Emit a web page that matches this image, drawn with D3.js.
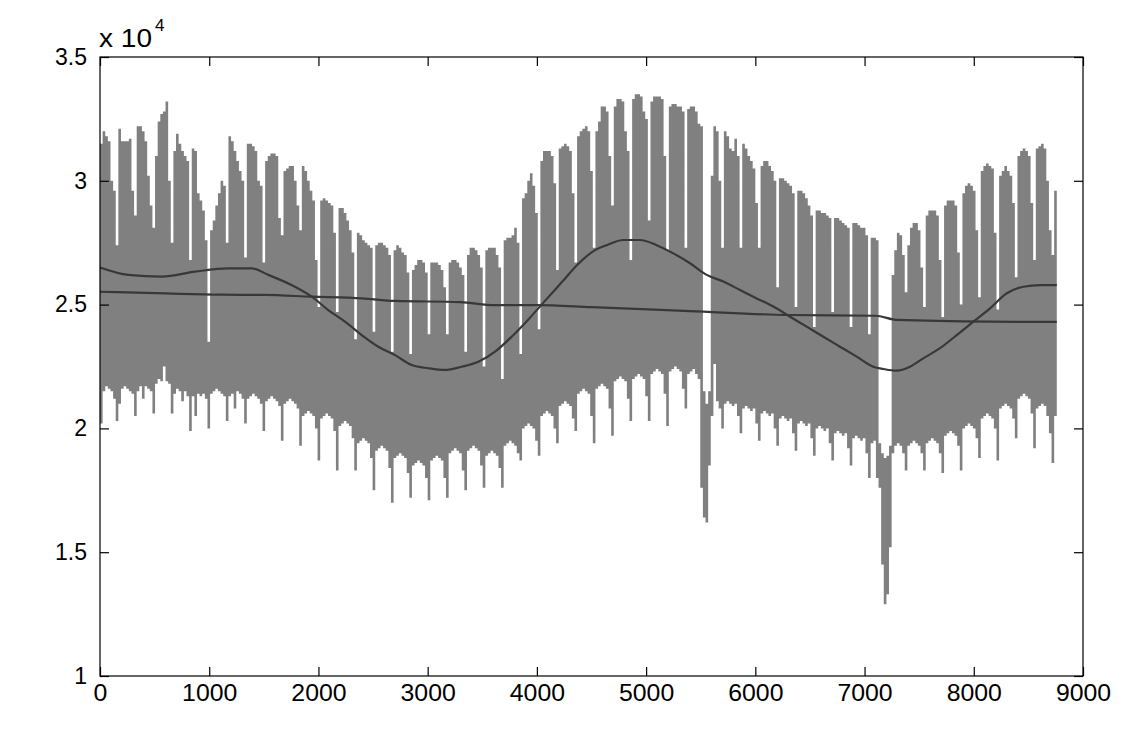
<!DOCTYPE html>
<html><head><meta charset="utf-8">
<script src="https://cdn.jsdelivr.net/npm/d3@7"></script>
<style>
body{margin:0;background:#fff}
svg{display:block}
text{font-family:"Liberation Sans",Arial,sans-serif;fill:#000}
</style>
</head><body>
<svg id="chart" width="1135" height="755"></svg>
<script>
const dailyMax = [
3.15,3.20,3.18,3.16,3.00,2.96,2.74,
3.21,3.16,3.16,3.16,3.17,2.96,2.86,
3.22,3.22,3.20,3.16,3.02,2.90,2.81,
3.10,3.24,3.27,3.28,3.32,3.00,2.75,
3.12,3.19,3.15,3.12,3.10,3.08,2.68,
3.13,3.12,2.95,2.92,2.88,2.76,2.35,
2.80,2.84,2.90,2.95,3.00,2.98,2.75,
3.18,3.16,3.12,3.08,3.04,3.00,2.69,
3.15,3.15,3.14,3.12,3.00,2.98,2.67,
3.08,3.10,3.11,3.11,3.10,2.85,2.78,
3.04,3.05,3.06,3.06,3.00,2.90,2.80,
3.06,3.04,3.00,2.96,2.92,2.68,2.49,
2.92,2.93,2.92,2.91,2.90,2.79,2.47,
2.89,2.89,2.87,2.84,2.80,2.71,2.36,
2.79,2.78,2.76,2.75,2.74,2.73,2.39,
2.74,2.75,2.75,2.74,2.73,2.70,2.31,
2.72,2.74,2.73,2.71,2.70,2.63,2.30,
2.64,2.66,2.68,2.68,2.67,2.63,2.38,
2.67,2.67,2.67,2.66,2.64,2.57,2.38,
2.67,2.68,2.68,2.67,2.65,2.62,2.31,
2.70,2.73,2.73,2.72,2.70,2.65,2.25,
2.72,2.73,2.73,2.73,2.70,2.65,2.20,
2.76,2.77,2.77,2.78,2.81,2.75,2.30,
2.93,2.95,3.00,3.03,2.98,2.87,2.40,
3.08,3.12,3.12,3.12,3.10,2.99,2.64,
3.13,3.14,3.15,3.14,3.12,2.95,2.67,
3.18,3.20,3.21,3.22,3.20,3.04,2.73,
3.20,3.24,3.30,3.30,3.28,3.10,2.90,
3.30,3.33,3.33,3.32,3.20,3.12,2.68,
3.33,3.35,3.35,3.34,3.28,3.25,2.84,
3.32,3.34,3.34,3.34,3.33,3.10,2.72,
3.30,3.31,3.31,3.30,3.30,3.28,2.73,
3.29,3.30,3.30,3.28,3.23,3.22,2.15,
2.10,2.15,3.02,3.22,3.20,3.00,2.73,
3.20,3.18,3.13,3.12,3.17,3.10,2.73,
3.15,3.13,3.10,3.08,3.05,2.91,2.73,
3.06,3.08,3.08,3.06,3.04,3.00,2.57,
3.01,3.01,3.00,2.99,2.98,2.95,2.49,
2.96,2.96,2.95,2.93,2.90,2.86,2.41,
2.88,2.88,2.87,2.87,2.86,2.85,2.47,
2.85,2.85,2.84,2.83,2.82,2.81,2.41,
2.83,2.83,2.82,2.81,2.81,2.78,2.38,
2.77,2.77,2.76,1.94,1.90,1.88,1.89,
1.93,2.62,2.72,2.79,2.78,2.70,2.55,
2.74,2.81,2.83,2.83,2.80,2.65,2.49,
2.86,2.88,2.88,2.88,2.86,2.68,2.45,
2.90,2.92,2.92,2.92,2.90,2.71,2.50,
2.95,2.98,2.99,2.98,2.96,2.80,2.53,
3.04,3.06,3.07,3.06,3.05,2.79,2.48,
3.02,3.04,3.06,3.04,3.02,2.91,2.61,
3.10,3.12,3.13,3.12,3.10,2.91,2.68,
3.13,3.14,3.15,3.13,3.00,2.80,2.70,
2.96
];
const dailyMin = [
2.02,2.15,2.17,2.16,2.15,2.12,2.03,
2.10,2.16,2.17,2.16,2.15,2.14,2.05,
2.15,2.17,2.12,2.17,2.16,2.15,2.06,
2.18,2.20,2.19,2.25,2.19,2.18,2.06,
2.14,2.16,2.15,2.11,2.15,2.13,1.99,
2.13,2.05,2.14,2.13,2.14,2.12,2.00,
2.14,2.15,2.16,2.15,2.14,2.13,2.03,
2.13,2.14,2.08,2.15,2.14,2.12,2.02,
2.12,2.13,2.14,2.13,2.12,2.10,1.99,
2.11,2.12,2.13,2.12,2.11,2.09,1.95,
2.10,2.11,2.12,2.11,2.10,2.08,1.93,
2.05,2.06,2.07,2.06,2.05,2.00,1.87,
2.04,2.05,2.06,2.05,2.04,1.99,1.83,
2.01,2.02,2.03,2.02,2.01,1.96,1.83,
1.94,1.95,1.96,1.95,1.94,1.88,1.75,
1.91,1.92,1.93,1.92,1.91,1.84,1.70,
1.88,1.89,1.90,1.89,1.88,1.82,1.72,
1.85,1.86,1.87,1.86,1.85,1.80,1.71,
1.87,1.88,1.89,1.88,1.87,1.80,1.72,
1.90,1.91,1.92,1.91,1.90,1.83,1.75,
1.91,1.92,1.93,1.92,1.91,1.85,1.76,
1.89,1.90,1.91,1.90,1.89,1.84,1.76,
1.93,1.94,1.95,1.94,1.93,1.90,1.87,
2.00,2.01,2.02,2.01,2.00,1.95,1.89,
2.05,2.06,2.07,2.06,2.05,2.00,1.94,
2.09,2.10,2.11,2.10,2.09,2.04,1.99,
2.14,2.15,2.16,2.15,2.14,2.05,1.94,
2.16,2.17,2.18,2.17,2.16,2.08,1.97,
2.19,2.20,2.21,2.20,2.19,2.12,2.03,
2.20,2.21,2.22,2.21,2.20,2.13,2.03,
2.22,2.23,2.24,2.23,2.22,2.14,2.01,
2.23,2.24,2.25,2.24,2.23,2.16,2.08,
2.22,2.23,2.24,2.22,2.20,1.76,1.64,
1.62,1.85,2.05,2.26,2.11,2.08,2.00,
2.10,2.11,2.10,2.09,2.10,2.05,1.98,
2.08,2.09,2.08,2.07,2.08,2.02,1.95,
2.06,2.07,2.06,2.05,2.06,2.00,1.93,
2.04,2.05,2.04,2.03,2.04,1.98,1.91,
2.02,2.03,2.02,2.01,2.02,1.96,1.89,
2.00,2.01,2.00,1.99,2.00,1.94,1.87,
1.98,1.99,1.98,1.97,1.98,1.92,1.85,
1.96,1.97,1.96,1.95,1.96,1.90,1.80,
1.94,1.95,1.80,1.76,1.45,1.29,1.33,
1.52,1.90,1.93,1.94,1.93,1.90,1.83,
1.93,1.94,1.95,1.94,1.93,1.90,1.83,
1.94,1.95,1.96,1.95,1.94,1.90,1.82,
1.97,1.98,1.99,1.98,1.97,1.93,1.83,
2.00,2.01,2.02,2.01,2.00,1.96,1.88,
2.04,2.05,2.06,2.05,2.04,2.00,1.87,
2.08,2.09,2.10,2.09,2.08,2.04,1.96,
2.12,2.13,2.14,2.13,2.12,2.06,1.92,
2.08,2.09,2.10,2.09,2.05,1.98,1.86,
2.05
];
// Smooth seasonal curve
const seasonalHours = [0,259,565,870,1175,1389,1541,1785,1938,2090,2243,2396,2548,2701,2854,3006,3159,3312,3464,3617,3769,3922,4074,4227,4380,4532,4639,4791,4944,5097,5249,5402,5555,5707,5860,6013,6165,6318,6470,6623,6775,6928,7080,7172,7294,7416,7538,7691,7844,7996,8149,8302,8454,8607,8760];
const seasonalValues = [2.65,2.62,2.613,2.633,2.646,2.646,2.62,2.572,2.532,2.478,2.431,2.377,2.33,2.296,2.256,2.243,2.236,2.249,2.269,2.31,2.37,2.44,2.515,2.59,2.665,2.72,2.74,2.761,2.761,2.74,2.707,2.667,2.62,2.593,2.559,2.525,2.492,2.451,2.411,2.37,2.33,2.29,2.249,2.24,2.233,2.249,2.283,2.324,2.377,2.431,2.485,2.546,2.572,2.579,2.579];
// Slow trend curve
const trendHours = [0,600,1100,1500,1938,2400,2700,3300,3617,4000,4500,5400,6300,7100,7300,8150,8760];
const trendValues = [2.552,2.545,2.54,2.539,2.532,2.525,2.515,2.51,2.498,2.498,2.49,2.474,2.458,2.455,2.438,2.431,2.43];
// Axes
const xTicks = [0,1000,2000,3000,4000,5000,6000,7000,8000,9000];
const yTicks = [1,1.5,2,2.5,3,3.5];
const yTickLabels = ["1","1.5","2","2.5","3","3.5"];

const svg = d3.select("#chart");
const L = 100, R = 1083, T = 57, B = 676;
const x = d3.scaleLinear().domain([0, 9000]).range([L, R]);
const y = d3.scaleLinear().domain([1, 3.5]).range([B, T]);

// band
const band = dailyMax.map((v, i) => ({h: i * 24, hi: v, lo: dailyMin[i]}));
band.push({h: dailyMax.length * 24, hi: dailyMax[dailyMax.length - 1], lo: dailyMin[dailyMin.length - 1]});
const area = d3.area().curve(d3.curveStepAfter)
  .x(d => x(d.h)).y0(d => y(d.lo)).y1(d => y(d.hi));
svg.append("path").datum(band).attr("d", area).attr("fill", "#808080").attr("stroke", "none");

// smooth lines
const line = d3.line().curve(d3.curveMonotoneX).x(d => x(d[0])).y(d => y(d[1]));
svg.append("path").datum(seasonalHours.map((h, i) => [h, seasonalValues[i]]))
  .attr("d", line).attr("fill", "none").attr("stroke", "#383838").attr("stroke-width", 2.2);
svg.append("path").datum(trendHours.map((h, i) => [h, trendValues[i]]))
  .attr("d", line).attr("fill", "none").attr("stroke", "#383838").attr("stroke-width", 2.2);

// frame
svg.append("rect").attr("x", L).attr("y", T).attr("width", R - L).attr("height", B - T)
  .attr("fill", "none").attr("stroke", "#000").attr("stroke-width", 1.2);

const fs = 23;
const gB = svg.append("g").attr("transform", `translate(0,${B})`)
  .call(d3.axisBottom(x).tickValues(xTicks).tickSizeInner(-9).tickSizeOuter(0).tickPadding(9).tickFormat(d3.format("d")));
const gT = svg.append("g").attr("transform", `translate(0,${T})`)
  .call(d3.axisTop(x).tickValues(xTicks).tickSizeInner(-9).tickSizeOuter(0).tickFormat(""));
const gL = svg.append("g").attr("transform", `translate(${L},0)`)
  .call(d3.axisLeft(y).tickValues(yTicks).tickSizeInner(-9).tickSizeOuter(0).tickPadding(13).tickFormat((d, i) => yTickLabels[i]));
const gR = svg.append("g").attr("transform", `translate(${R},0)`)
  .call(d3.axisRight(y).tickValues(yTicks).tickSizeInner(-9).tickSizeOuter(0).tickFormat(""));
[gB, gT, gL, gR].forEach(g => {
  g.select(".domain").remove();
  g.selectAll(".tick line").attr("stroke", "#000").attr("stroke-width", 1.2);
  g.selectAll("text").attr("font-size", fs).attr("font-family", "Liberation Sans, Arial, sans-serif").attr("fill", "#000");
});
gB.selectAll("text").attr("transform", "scale(1.08,1)");
gL.selectAll("text").attr("x", -13);

// exponent label
svg.append("text").attr("x", 99).attr("y", 47).attr("font-size", 25)
  .attr("textLength", 53).attr("lengthAdjust", "spacingAndGlyphs").text("x 10");
svg.append("text").attr("x", 155).attr("y", 31).attr("font-size", 17).text("4");
</script>
</body></html>
